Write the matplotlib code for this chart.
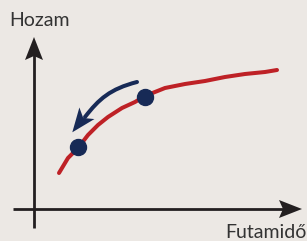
import numpy as np
from matplotlib import pyplot as plt
from matplotlib.patches import PathPatch, Polygon
from matplotlib.path import Path
from matplotlib.transforms import IdentityTransform

# yield curve points (origin = axis crossing)
maturity = [25, 34, 44, 54, 64, 74, 88, 101, 111, 131, 151, 171, 191, 211, 231, 243]
yields = [36, 51, 61, 74, 84, 92, 101, 107, 113, 121, 125, 128, 132, 135, 137, 139]

# the two marked points
dotsX = [44, 111]
dotsY = [62, 112]

# shift arrow: bezier shaft (start, two controls, end) and head tip
shaftX = [103, 76, 65, 51]
shaftY = [127, 120, 110, 92]
tip = (38.3, 76.7)

yLabel = 'Hozam'
xLabel = 'Futamidő'

bg = '#ECE8E4'
red = '#BE2126'
navy = '#172A56'
dark = '#231F20'

fig = plt.figure(figsize=(3.07, 2.41), dpi=100, facecolor=bg)
ax = fig.add_axes([0, 0, 1, 1])
ax.set_facecolor(bg)
ax.set_xlim(-34, 273)
ax.set_ylim(-32, 209)
ax.axis('off')


def head(tip, direction, length, halfWidth, notch, color):
	# notched arrow head in pixel space
	t = ax.transData.transform(tip)
	d = np.array(direction, float)
	d = d / np.hypot(*d)
	n = np.array([-d[1], d[0]])
	pts = [t, t - length*d + halfWidth*n, t - (length - notch)*d, t - length*d - halfWidth*n]
	ax.add_patch(Polygon(pts, closed=True, transform=IdentityTransform(), color=color, lw=0, zorder=6))


# axes
ax.plot([0, 0], [-19, 160], color=dark, lw=2, solid_capstyle='butt')
ax.plot([-21, 256], [0, 0], color=dark, lw=2, solid_capstyle='butt')
head((0, 172), (0, 1), 23, 9, 4, dark)
head((268, 0), (1, 0), 23, 9, 4, dark)

ax.plot(maturity, yields, '-', color=red, lw=2.9, solid_capstyle='round', solid_joinstyle='round', zorder=3)
ax.plot(dotsX, dotsY, 'o', color=navy, ms=11.5, zorder=4)

# curved shift arrow
shaft = Path(list(zip(shaftX, shaftY)), [Path.MOVETO, Path.CURVE4, Path.CURVE4, Path.CURVE4])
ax.add_patch(PathPatch(shaft, fill=False, edgecolor=navy, lw=2.9, capstyle='round', zorder=5))
head(tip, (-15.2, -19.8), 24, 9.5, 6, navy)

ax.text(-25, 189, yLabel, fontsize=14, family='Lato', color='#333333', ha='left', va='center')
ax.text(273, -29, xLabel, fontsize=14, family='Lato', color='#333333', ha='right', va='baseline')

plt.savefig('out.png', dpi=100, facecolor=bg)
